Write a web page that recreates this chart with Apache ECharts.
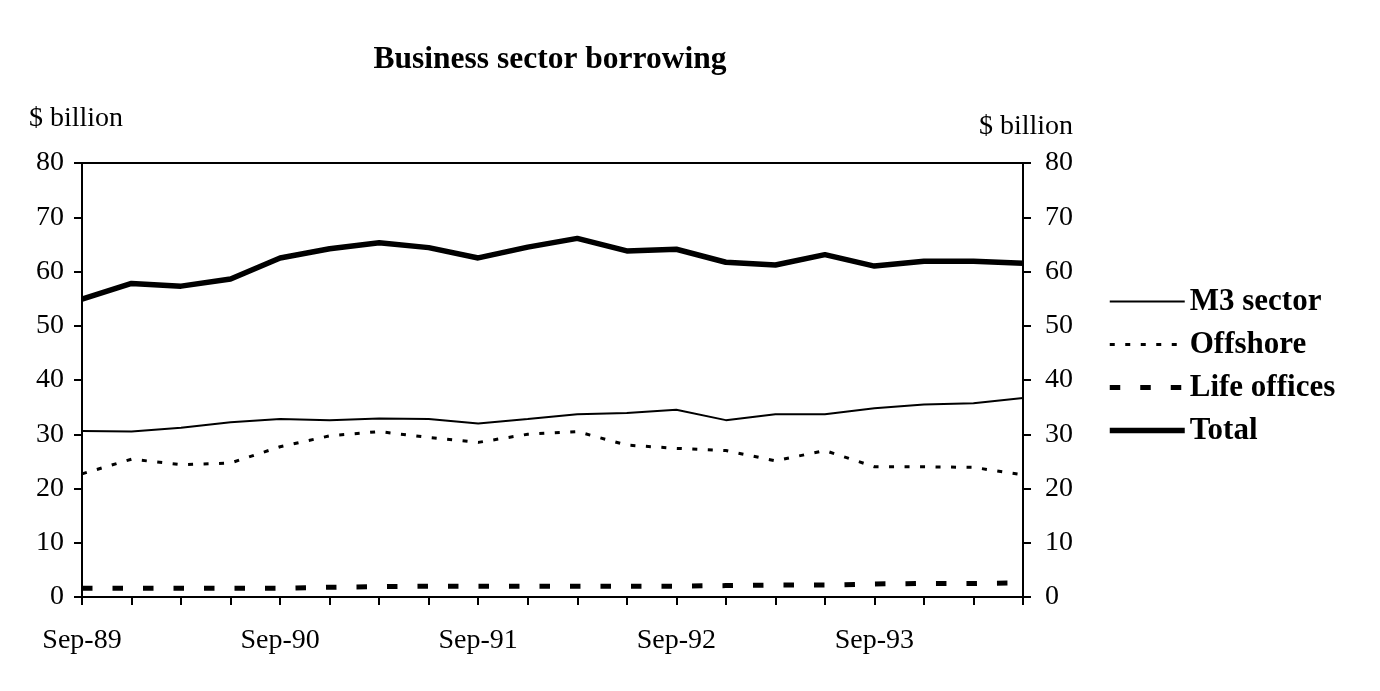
<!DOCTYPE html>
<html>
<head>
<meta charset="utf-8">
<title>Business sector borrowing</title>
<script src="https://cdn.jsdelivr.net/npm/echarts@6/dist/echarts.min.js"></script>
<style>
  html, body { margin: 0; padding: 0; background: #fff; }
  #chart { width: 1380px; height: 691px; }
</style>
</head>
<body>
<div id="chart"></div>
<script>
// quarterly, Sep-89 .. Jun-94
var quarters = ['Sep-89', 'Dec-89', 'Mar-90', 'Jun-90', 'Sep-90', 'Dec-90', 'Mar-91', 'Jun-91',
  'Sep-91', 'Dec-91', 'Mar-92', 'Jun-92', 'Sep-92', 'Dec-92', 'Mar-93', 'Jun-93',
  'Sep-93', 'Dec-93', 'Mar-94', 'Jun-94']

// $ billion
var m3Sector = [30.6, 30.5, 31.2, 32.2, 32.8, 32.6, 32.9, 32.8, 32.0, 32.8,
  33.7, 33.9, 34.5, 32.6, 33.7, 33.7, 34.8, 35.5, 35.7, 36.7]
var offshore = [22.7, 25.4, 24.4, 24.7, 27.7, 29.7, 30.5, 29.4, 28.5, 30.0,
  30.5, 28.0, 27.4, 27.0, 25.1, 27.0, 24.0, 24.0, 23.9, 22.5]
var lifeOffices = [1.6, 1.6, 1.6, 1.6, 1.6, 1.8, 1.9, 2.0, 2.0, 2.0,
  2.0, 2.0, 2.0, 2.1, 2.2, 2.2, 2.4, 2.5, 2.5, 2.6]
var total = [54.9, 57.8, 57.3, 58.6, 62.5, 64.2, 65.3, 64.4, 62.5, 64.5,
  66.1, 63.8, 64.1, 61.7, 61.2, 63.1, 61.0, 61.9, 61.9, 61.5]

var font = '"Liberation Serif", "Times New Roman", serif'

// line looks, shared by the series and their legend icons
var styles = {
  'M3 sector': { color: '#000', width: 2, type: 'solid' },
  'Offshore': { color: '#000', width: 3, type: [5, 10.5] },
  'Life offices': { color: '#000', width: 5, type: [10.5, 20] },
  'Total': { color: '#000', width: 5.5, type: 'solid' }
}

var chart = echarts.init(document.getElementById('chart'))

var yAxisBase = {
  type: 'value',
  min: 0,
  max: 80,
  interval: 10,
  splitLine: { show: false },
  axisLine: { show: true, lineStyle: { color: '#000', width: 2 } },
  axisTick: { show: true, length: 8, lineStyle: { color: '#000', width: 2 } },
  axisLabel: { color: '#000', fontFamily: font, fontSize: 28 }
}

function makeSeries(name, data) {
  return {
    name: name, type: 'line', data: data,
    symbol: 'none',
    itemStyle: { color: '#000' },
    lineStyle: styles[name]
  }
}

var option = {
  backgroundColor: '#fff',
  animation: false,
  title: [
    {
      text: 'Business sector borrowing',
      left: 545, top: 39,
      textAlign: 'center',
      textStyle: { fontFamily: font, fontWeight: 'bold', fontSize: 31.5, color: '#000' }
    },
    {
      text: '$ billion',
      left: 24, top: 100,
      textStyle: { fontFamily: font, fontWeight: 'normal', fontSize: 28, color: '#000' }
    },
    {
      text: '$ billion',
      left: 974, top: 108,
      textStyle: { fontFamily: font, fontWeight: 'normal', fontSize: 28, color: '#000' }
    }
  ],
  grid: {
    left: 82, right: 357, top: 163, bottom: 94,
    show: true, borderColor: '#000', borderWidth: 2
  },
  legend: {
    orient: 'vertical',
    left: 1102, top: 281,
    itemWidth: 75, itemHeight: 14, itemGap: 12,
    itemStyle: { opacity: 0 },
    textStyle: { fontFamily: font, fontWeight: 'bold', fontSize: 31, color: '#000' },
    data: ['M3 sector', 'Offshore', 'Life offices', 'Total'].map(function (n) {
      return { name: n, lineStyle: styles[n], itemStyle: { opacity: 0 } }
    })
  },
  xAxis: {
    type: 'category',
    data: quarters,
    boundaryGap: false,
    axisLine: { lineStyle: { color: '#000', width: 2 } },
    axisTick: { show: true, interval: 0, length: 8, lineStyle: { color: '#000', width: 2 } },
    axisLabel: { interval: 3, margin: 30, color: '#000', fontFamily: font, fontSize: 28 }
  },
  yAxis: [
    Object.assign({}, yAxisBase, { position: 'left', axisLabel: Object.assign({}, yAxisBase.axisLabel, { margin: 18 }) }),
    Object.assign({}, yAxisBase, { position: 'right', axisLabel: Object.assign({}, yAxisBase.axisLabel, { margin: 22 }) })
  ],
  series: [
    makeSeries('M3 sector', m3Sector),
    makeSeries('Offshore', offshore),
    makeSeries('Life offices', lifeOffices),
    makeSeries('Total', total)
  ]
}

chart.setOption(option)
</script>
</body>
</html>
